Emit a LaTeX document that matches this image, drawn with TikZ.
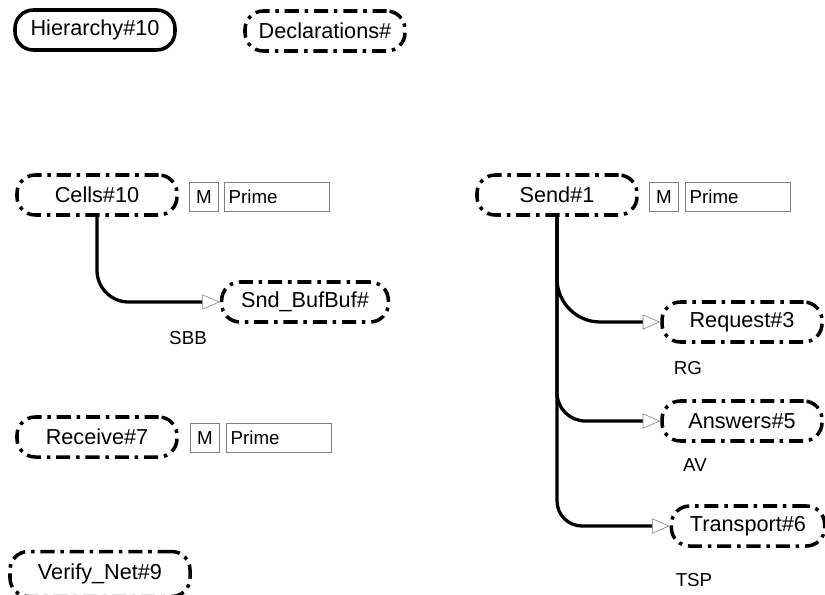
\documentclass[tikz,border=0pt]{standalone}
\usepackage{fontspec}
\setmainfont{Liberation Sans}
\usetikzlibrary{positioning,arrows.meta}

\begin{document}
\begin{tikzpicture}[
  x=0.03cm, y=-0.03cm,
  page/.style={rectangle, draw, line width=3pt, rounded corners=0.55cm, align=center,
    font=\fontsize{18.5}{21}\selectfont, minimum width=4.8cm, minimum height=1.2cm, inner sep=2pt},
  dashpage/.style={page, dash pattern=on 12pt off 5pt on 3pt off 5pt},
  tagbox/.style={rectangle, draw=gray, line width=0.5pt, font=\fontsize{16}{18}\selectfont,
    minimum height=0.87cm, inner sep=2pt},
  primebox/.style={tagbox, minimum width=3.15cm, text width=2.9cm, align=left},
  label/.style={font=\fontsize{16}{18}\selectfont},
  link/.style={line width=2.8pt, rounded corners=0.95cm,
    -{Triangle[open, length=15pt, width=13pt, line width=0.5pt, color=gray]}},
]
\useasboundingbox (0,0) rectangle (825,594);

% === Top row ===
\node[page] (hier) at (95,30) {Hierarchy\#10};
\node[dashpage] (decl) at (325,31) {Declarations\#};

% === Cells ===
\node[dashpage] (cells) at (97,195) {Cells\#10};
\node[tagbox, minimum width=0.87cm] (cellsm) at (204,197) {M};
\node[primebox] (cellsp) at (277,197) {Prime};

\node[dashpage, minimum width=5cm] (snd) at (305,302) {Snd\_BufBuf\#};
\node[label] (sbb) at (188,338) {SBB};

\draw[link] (cells.south) |- (snd.west);

% === Send ===
\node[dashpage] (send) at (557,195) {Send\#1};
\node[tagbox, minimum width=0.87cm] (sendm) at (664,197) {M};
\node[primebox] (sendp) at (738,197) {Prime};

\node[dashpage] (req) at (742,322) {Request\#3};
\node[label] (rg) at (688,368) {RG};

\node[dashpage] (ans) at (742,421) {Answers\#5};
\node[label] (av) at (695,465) {AV};

\node[dashpage, minimum width=4.6cm] (trans) at (748,526) {Transport\#6};
\node[label] (tsp) at (694,580) {TSP};

\draw[link, rounded corners=1.3cm] (send.south) |- (req.west);
\draw[link, rounded corners=0.85cm] (send.south) |- (ans.west);
\draw[link, rounded corners=0.75cm] (send.south) |- (trans.west);

% === Receive ===
\node[dashpage] (recv) at (97,437) {Receive\#7};
\node[tagbox, minimum width=0.87cm] (recvm) at (205,438) {M};
\node[primebox] (recvp) at (279,438) {Prime};

% === Verify ===
\node[dashpage, minimum width=5.4cm, minimum height=1.35cm] (verify) at (100,574) {Verify\_Net\#9};

\end{tikzpicture}
\end{document}
